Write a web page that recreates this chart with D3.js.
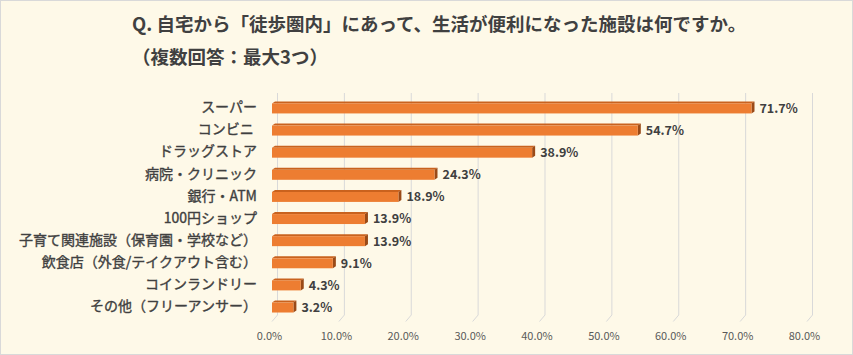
<!DOCTYPE html>
<html><head><meta charset="utf-8">
<script src="https://cdn.jsdelivr.net/npm/d3@7"></script>
<style>
html,body{margin:0;padding:0;background:#FEF9E8;}
svg{display:block;}
text{font-family:"Noto Sans CJK JP","Noto Sans",sans-serif;}
</style></head>
<body>
<svg id="c" width="853" height="355"></svg>
<script>
const titleLine1 = "Q. 自宅から「徒歩圏内」にあって、生活が便利になった施設は何ですか。";
const titleLine2 = "（複数回答：最大3つ）";
const categories = ["スーパー","コンビニ ","ドラッグストア","病院・クリニック","銀行・ATM","100円ショップ","子育て関連施設（保育園・学校など）","飲食店（外食/テイクアウト含む）","コインランドリー","その他（フリーアンサー）"];
const values = [71.7,54.7,38.9,24.3,18.9,13.9,13.9,9.1,4.3,3.2];
const ticks = [0,10,20,30,40,50,60,70,80];

const svg = d3.select("#c");
svg.append("rect").attr("x",0.5).attr("y",0.5).attr("width",852).attr("height",354)
  .attr("fill","#FEF9E8").attr("stroke","#D9D9D9");

const x = d3.scaleLinear().domain([0,80]).range([272,807]);
const y = d3.scaleBand().domain(categories).range([97.4,318.6]).paddingInner(0.55).paddingOuter(0.275);
const gdx = 5.5, gdy = -6.5;
const floorY = 321.5, topY = 93;

// gridlines (back wall + floor diagonal)
const grid = svg.append("g");
ticks.forEach(t=>{
  const fx = x(t);
  grid.append("path")
    .attr("d",`M${fx+gdx},${topY} L${fx+gdx},${floorY+gdy} L${fx},${floorY}`)
    .attr("fill","none").attr("stroke","#D9D9D9").attr("stroke-width",1);
});

// axis tick labels
const xAxis = d3.axisBottom(x).tickValues(ticks).tickFormat(d=>d3.format(".1f")(d)+"%").tickSize(0);
const ax = svg.append("g").attr("transform",`translate(-3,${floorY+8})`).call(xAxis);
ax.select(".domain").remove();
ax.selectAll("text").attr("fill","#595959").attr("font-size","11px")
  .style("font-family","'Noto Sans CJK JP',sans-serif");

// bars (3D)
const bdx = 3, bdy = -2;
const bars = svg.append("g");
categories.forEach((c,i)=>{
  const v = values[i];
  const y0 = y(c), h = y.bandwidth(), x0 = x(0), x1 = x(v);
  bars.append("path").attr("d",`M${x0},${y0} L${x0+bdx},${y0+bdy} L${x1+bdx},${y0+bdy} L${x1},${y0} Z`)
    .attr("fill","#C9621E");
  bars.append("path").attr("d",`M${x1},${y0} L${x1+bdx},${y0+bdy} L${x1+bdx},${y0+h+bdy} L${x1},${y0+h} Z`)
    .attr("fill","#9A4A17");
  bars.append("rect").attr("x",x0).attr("y",y0).attr("width",x1-x0).attr("height",h)
    .attr("fill","#ED7D31");
  bars.append("text").attr("x",x1+bdx+5).attr("y",y0+h/2+1)
    .attr("dominant-baseline","middle").attr("font-size","12.5px").attr("font-weight","bold")
    .attr("fill","#404040").text(d3.format(".1f")(v)+"%");
  svg.append("text").attr("x",257).attr("y",y0+h/2)
    .attr("text-anchor","end").attr("dominant-baseline","middle")
    .attr("font-size","14px").attr("fill","#404040")
    .attr("stroke","#404040").attr("stroke-width",0.35)
    .attr("xml:space","preserve").style("white-space","pre").text(c);
});

// titles
svg.append("text").attr("x",132).attr("y",31).attr("font-size","18.5px").attr("font-weight","bold")
  .attr("fill","#404040").attr("xml:space","preserve").style("white-space","pre").text(titleLine1);
svg.append("text").attr("x",132).attr("y",64).attr("font-size","18.5px").attr("font-weight","bold")
  .attr("fill","#404040").text(titleLine2);
</script>
</body></html>
